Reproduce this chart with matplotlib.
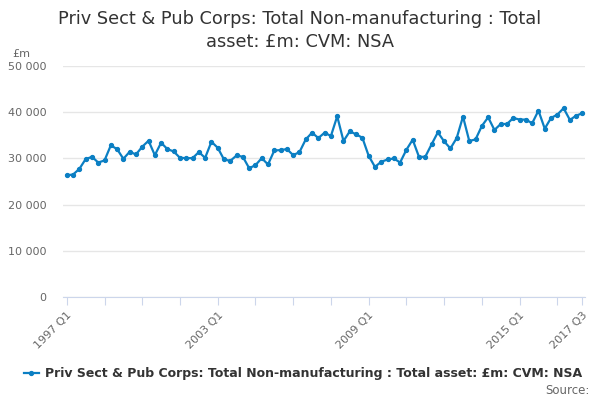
import matplotlib.pyplot as plt

# quarterly values, 1997 Q1 .. 2017 Q3 (£m)
years = list(range(1997, 2018))
quarters = [f'{y} Q{q}' for y in years for q in range(1, 5)][:83]
values = [
    26380, 26520, 27750, 29860, 30360, 29130, 29570, 32830, 32030, 29930,
    31450, 30870, 32540, 33840, 30720, 33410, 32030, 31520, 30140, 30070,
    30070, 31380, 30140, 33620, 32320, 29780, 29490, 30650, 30360, 27900,
    28550, 30070, 28700, 31740, 31810, 32030, 30720, 31380, 34130, 35580,
    34420, 35580, 34860, 39130, 33770, 35870, 35220, 34490, 30580, 28190,
    29280, 29780, 30000, 29130, 31880, 34060, 30360, 30360, 33040, 35650,
    33700, 32170, 34420, 39060, 33770, 34130, 37030, 38910, 36160, 37460,
    37460, 38770, 38410, 38410, 37610, 40360, 36450, 38770, 39490, 40870,
    38330, 39280, 39780,
]

series_name = 'Priv Sect & Pub Corps: Total Non-manufacturing : Total asset: £m: CVM: NSA'
label_quarters = ['1997 Q1', '2003 Q1', '2009 Q1', '2015 Q1', '2017 Q3']
yticks = [0, 10000, 20000, 30000, 40000, 50000]

line_color = '#0b7fc3'
text_color = '#333333'
tick_color = '#666666'

fig = plt.figure(figsize=(6, 4), dpi=100)
ax = fig.add_axes([0.105, 0.257, 0.87, 0.578])

x = list(range(len(values)))
ax.plot(x, values, color=line_color, lw=1.6, marker='o', ms=2.8,
        label=series_name, zorder=3)

ax.set_ylim(0, 50000)
ax.set_xlim(-0.6, len(values) - 0.6)
ax.set_yticks(yticks)
ax.set_yticklabels([f'{v:,}'.replace(',', ' ') for v in yticks])
ax.grid(axis='y', color='#e6e6e6', lw=1)
ax.set_axisbelow(True)

tick_pos = list(range(0, len(values), 6)) + [len(values) - 1]
ax.set_xticks(tick_pos)
ax.set_xticklabels([quarters[i] if quarters[i] in label_quarters else '' for i in tick_pos],
                   rotation=45, ha='right', rotation_mode='anchor')

for s in ['top', 'right', 'left']:
    ax.spines[s].set_visible(False)
ax.spines['bottom'].set_color('#ccd6eb')
ax.tick_params(axis='x', colors='#ccd6eb', length=6, labelcolor=tick_color,
               labelsize=8, pad=3)
ax.tick_params(axis='y', length=0, labelcolor=tick_color, labelsize=8, pad=12)

fig.text(0.5, 0.975, 'Priv Sect & Pub Corps: Total Non-manufacturing : Total\nasset: £m: CVM: NSA',
         ha='center', va='top', fontsize=12.8, color=text_color, linespacing=1.35)
fig.text(0.02, 0.865, '£m', fontsize=8, color=tick_color, va='center')

fig.legend(loc='center', bbox_to_anchor=(0.505, 0.065), frameon=False,
           prop={'size': 9, 'weight': 'bold'}, labelcolor=text_color,
           handlelength=1.2, handletextpad=0.5)
fig.text(0.983, 0.025, 'Source:', ha='right', va='center', fontsize=8.5,
         color=tick_color)

fig.savefig('out.png', dpi=100)
